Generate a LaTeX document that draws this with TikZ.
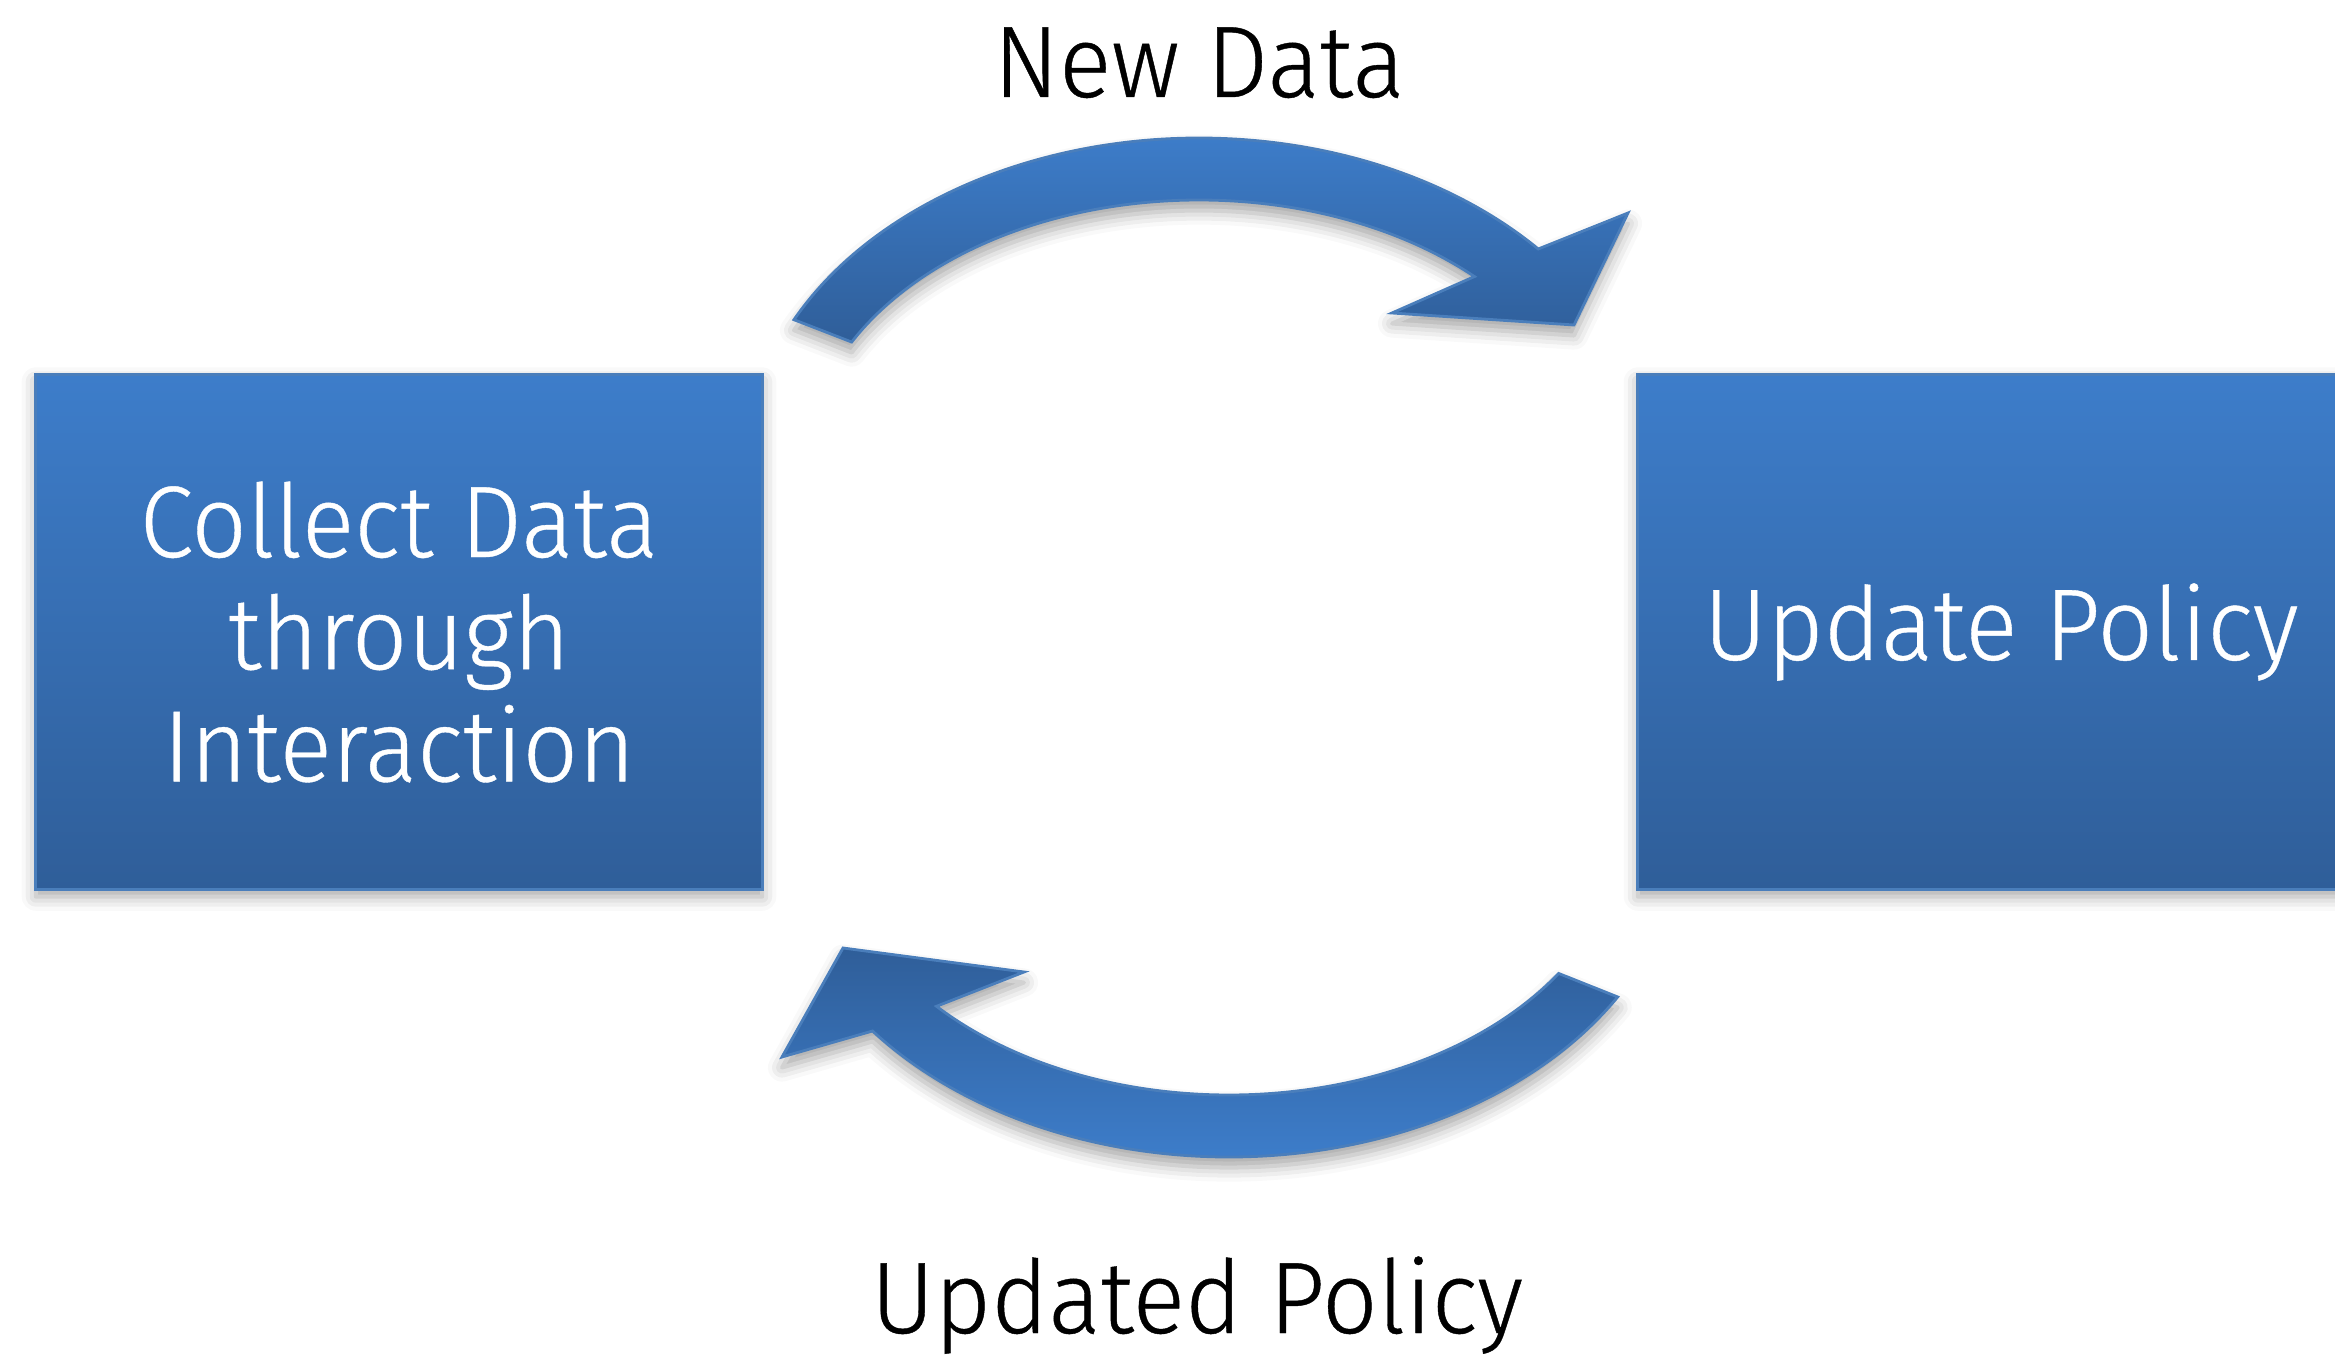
\documentclass[tikz,border=0pt]{standalone}
\usepackage{fontspec}
\setmainfont{Fira Sans}[UprightFont={* Light},FakeStretch=0.96,FakeBold=0.4]
\usetikzlibrary{calc,shadows.blur}

\definecolor{boxtop}{HTML}{3D7DCA}
\definecolor{boxbot}{HTML}{2F5E99}
\definecolor{boxedge}{HTML}{4A7EBB}

\tikzset{
  stage/.style={rectangle,draw=boxedge,line width=0.8pt,top color=boxtop,bottom color=boxbot,
    minimum width=7.26cm,minimum height=5.15cm,inner sep=0pt,align=center,text=white,
    blur shadow={shadow xshift=0pt,shadow yshift=-2pt,shadow blur radius=4pt,shadow opacity=35}},
  bendarrow/.style={draw=boxedge,line width=0.8pt,line join=miter,
    blur shadow={shadow xshift=0pt,shadow yshift=-3pt,shadow blur radius=4pt,shadow opacity=35}}
}

\begin{document}
\begin{tikzpicture}[x=0.01cm,y=-0.01cm,every node/.style={font=\fontsize{28.9}{31.9}\selectfont}]
  \useasboundingbox (0,0) rectangle (2335,1355);

  \node[stage] (collect) at (399,632) {Collect Data\\through\\Interaction};
  \node[stage] (update) at (2001,632) {Update Policy};

  % centres of the two bent arrows
  \coordinate (topc) at (1199,467);
  \coordinate (botc) at (1229,828);

  % upper arrow, left to right
  \path[bendarrow,top color=boxtop,bottom color=boxbot]
    ($(topc)+(206.6:453 and 329)$) arc[start angle=206.6,end angle=318.5,x radius=453,y radius=329]
    -- (1628,213) -- (1574,325) -- (1392,313)
    -- ($(topc)+(314.5:393 and 267)$) arc[start angle=314.5,end angle=207.9,x radius=393,y radius=267]
    -- cycle;

  % lower arrow, right to left
  \path[bendarrow,top color=boxbot,bottom color=boxtop]
    ($(botc)+(30.9:453 and 329)$) arc[start angle=30.9,end angle=141.9,x radius=453,y radius=329]
    -- (782,1057) -- (843,948) -- (1024,972)
    -- ($(botc)+(138.1:393 and 267)$) arc[start angle=138.1,end angle=33,x radius=393,y radius=267]
    -- cycle;

  \node[anchor=base] (newdata) at (1199,97) {New Data};
  \node[anchor=base] (newpolicy) at (1197,1333) {Updated Policy};
\end{tikzpicture}
\end{document}
